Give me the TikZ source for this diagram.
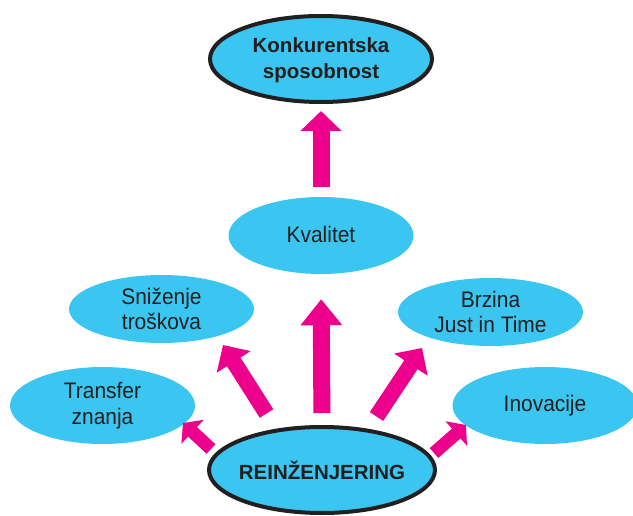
\documentclass[tikz,border=0pt]{standalone}
\usepackage{fontspec}
\setmainfont{Liberation Sans}
\newfontfamily\condfont[FakeStretch=0.93]{Liberation Sans}
\usetikzlibrary{shapes.geometric,arrows.meta}
\definecolor{bubblecyan}{RGB}{58,198,240}
\definecolor{arrowmag}{RGB}{236,0,140}
\definecolor{txtgray}{RGB}{35,31,32}
\begin{document}
\begin{tikzpicture}[x=1pt,y=-1pt,
  bubble/.style={ellipse, fill=bubblecyan, inner sep=0pt},
  mainbubble/.style={bubble, draw=txtgray, line width=4pt},
  txt/.style={text=txtgray, align=center, inner sep=0pt, font=\condfont\fontsize{22.5}{25.5}\selectfont},
  boldtxt/.style={txt, font=\normalfont\bfseries\fontsize{20.5}{26}\selectfont},
  bigarrow/.style={draw=arrowmag, line width=17pt, -{Triangle[length=20pt,width=40pt]}},
  smallarrow/.style={draw=arrowmag, line width=13pt, -{Triangle[length=13pt,width=32pt]}}]
\useasboundingbox (0,0) rectangle (633,516);

% nodes
\node[mainbubble, minimum width=222pt, minimum height=86pt] (konk) at (321,59) {};
\node[boldtxt] at ([yshift=-1pt]konk.center) {Konkurentska\\sposobnost};
\node[bubble, minimum width=185pt, minimum height=77pt] (kval) at (321,235.5) {};
\node[txt] at ([yshift=1pt]kval.center) {Kvalitet};
\node[bubble, minimum width=185pt, minimum height=68pt] (sniz) at (161.5,309) {};
\node[txt] at (sniz) {Sniženje\\troškova};
\node[bubble, minimum width=185pt, minimum height=68pt] (brz) at (490.5,312) {};
\node[txt] at (brz) {Brzina\\Just in Time};
\node[bubble, minimum width=185pt, minimum height=77pt] (trans) at (102.5,405.5) {};
\node[txt] at (trans) {Transfer\\znanja};
\node[bubble, minimum width=185pt, minimum height=77pt] (inov) at (545,405.5) {};
\node[txt] at (inov) {Inovacije};

% arrow end points
\coordinate (lt) at (266.5,413.5);
\coordinate (lh) at (223,345);
\coordinate (rt) at (376.5,416.5);
\coordinate (rh) at (422,348);
\coordinate (slt) at (211,449);
\coordinate (slh) at (183,423);
\coordinate (srt) at (434,453);
\coordinate (srh) at (466,425);

% arrows
\draw[bigarrow, shorten <=10pt, shorten >=7pt] (kval.north) -- (konk.south);
\draw[bigarrow, line width=17pt, -{Triangle[length=26pt,width=40pt]}, shorten <=14pt, shorten >=25pt] (322,427) -- (kval.south);
\draw[bigarrow, line width=16pt, -{Triangle[length=20pt,width=39pt]}] (lt) -- (lh);
\draw[bigarrow, line width=16pt, -{Triangle[length=20pt,width=39pt]}] (rt) -- (rh);
\draw[smallarrow] (slt) -- (slh);
\draw[smallarrow] (srt) -- (srh);

\node[mainbubble, minimum width=226pt, minimum height=86pt] (reinz) at (322,470) {};
\node[boldtxt] at (reinz) {REINŽENJERING};
\end{tikzpicture}
\end{document}
